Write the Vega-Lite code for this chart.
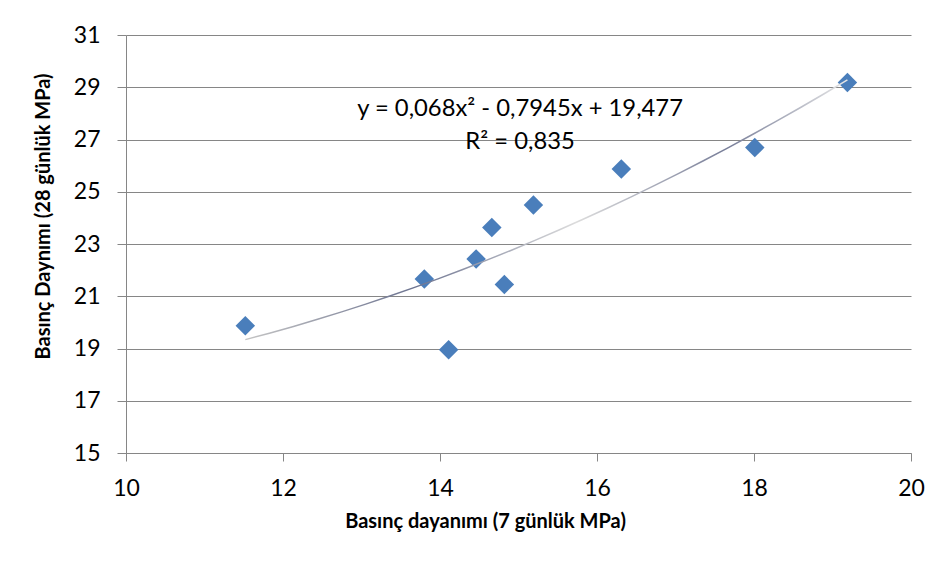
{
  "$schema": "https://vega.github.io/schema/vega-lite/v6.json",
  "width": 785,
  "height": 418,
  "autosize": {"type": "none"},
  "padding": {"left": 126, "top": 35, "right": 31, "bottom": 111},
  "background": "white",
  "config": {
    "view": {"stroke": null},
    "font": "Lato",
    "axis": {"labelFont": "Lato", "titleFont": "Lato", "labelFlush": false}
  },
  "datasets": {
    "pts": [
      {"x": 11.52, "y": 19.87},
      {"x": 13.80, "y": 21.66},
      {"x": 14.11, "y": 18.95},
      {"x": 14.46, "y": 22.43},
      {"x": 14.66, "y": 23.63},
      {"x": 14.82, "y": 21.45},
      {"x": 15.19, "y": 24.49},
      {"x": 16.31, "y": 25.87},
      {"x": 18.01, "y": 26.69},
      {"x": 19.19, "y": 29.18}
    ],
    "notes": [
      {"x": 15.02, "y": 28.17, "label": "y = 0,068x² - 0,7945x + 19,477"},
      {"x": 15.02, "y": 26.91, "label": "R² = 0,835"}
    ]
  },
  "layer": [
    {
      "data": {"name": "pts"},
      "mark": {"type": "point", "shape": "diamond", "filled": true, "size": 380, "color": "#4a7ebb", "opacity": 1},
      "encoding": {
        "x": {
          "field": "x", "type": "quantitative",
          "scale": {"domain": [10, 20], "nice": false, "zero": false},
          "axis": {
            "values": [10, 12, 14, 16, 18, 20],
            "format": "d",
            "grid": false,
            "domainColor": "#868686",
            "tickColor": "#868686",
            "tickSize": 8,
            "labelFontSize": 23,
            "labelColor": "#000000",
            "labelPadding": 16,
            "title": "Basınç dayanımı (7 günlük MPa)",
            "titleFontSize": 20,
            "titleFontWeight": "bold",
            "titleColor": "#000000",
            "titlePadding": 11,
            "titleX": 359
          }
        },
        "y": {
          "field": "y", "type": "quantitative",
          "scale": {"domain": [15, 31], "nice": false, "zero": false},
          "axis": {
            "values": [15, 17, 19, 21, 23, 25, 27, 29, 31],
            "format": "d",
            "grid": true,
            "gridColor": "#868686",
            "gridWidth": 1,
            "domainColor": "#868686",
            "tickColor": "#868686",
            "tickSize": 9,
            "labelFontSize": 23,
            "labelColor": "#000000",
            "labelPadding": 17,
            "title": "Basınç Daynımı (28 günlük MPa)",
            "titleFontSize": 20,
            "titleFontWeight": "bold",
            "titleColor": "#000000",
            "titlePadding": 20,
            "titleY": 181
          }
        }
      }
    },
    {
      "data": {"name": "pts"},
      "transform": [{"regression": "y", "on": "x", "method": "poly", "order": 2}],
      "mark": {
        "type": "line",
        "strokeWidth": 1.5,
        "stroke": {
          "gradient": "linear", "x1": 0, "x2": 1, "y1": 0, "y2": 0,
          "stops": [
            {"offset": 0, "color": "#c4c4c4"},
            {"offset": 0.28, "color": "#6c7390"},
            {"offset": 0.55, "color": "#dcdcdc"},
            {"offset": 0.8, "color": "#777d98"},
            {"offset": 1, "color": "#e6e6e6"}
          ]
        }
      },
      "encoding": {
        "x": {"field": "x", "type": "quantitative"},
        "y": {"field": "y", "type": "quantitative"}
      }
    },
    {
      "data": {"name": "notes"},
      "mark": {"type": "text", "fontSize": 23.8, "color": "#000000", "align": "center", "baseline": "middle"},
      "encoding": {
        "x": {"field": "x", "type": "quantitative"},
        "y": {"field": "y", "type": "quantitative"},
        "text": {"field": "label"}
      }
    }
  ]
}
